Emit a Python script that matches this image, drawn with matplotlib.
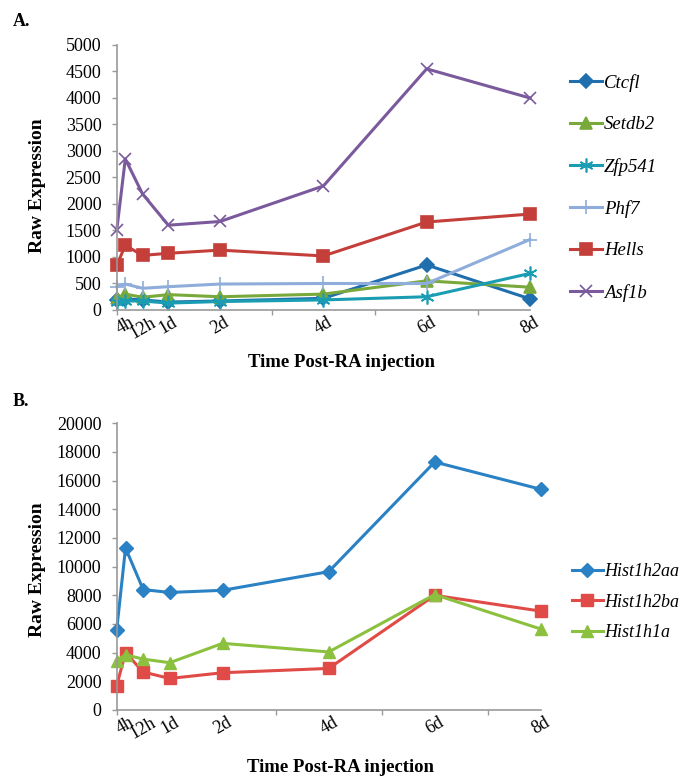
import numpy as np
import matplotlib
matplotlib.use("Agg")
import matplotlib.pyplot as plt

plt.rcParams['font.family'] = ['Liberation Serif', 'DejaVu Serif']

# time points in hours post-RA injection
hours = [0, 4, 12, 24, 48, 96, 144, 192]
tick_pos = [4, 12, 24, 48, 96, 144, 192]
tick_lab = ['4h', '12h', '1d', '2d', '4d', '6d', '8d']

# panel A
ctcfl = [190, 210, 190, 150, 170, 220, 850, 210]
setdb2 = [220, 300, 240, 290, 250, 300, 550, 430]
zfp541 = [150, 170, 170, 130, 160, 190, 250, 690]
phf7 = [440, 490, 410, 440, 490, 500, 500, 1330]
hells = [840, 1220, 1030, 1070, 1130, 1020, 1660, 1810]
asf1b = [1500, 2850, 2190, 1600, 1670, 2340, 4550, 4000]

# panel B
h2aa = [5600, 11300, 8400, 8200, 8350, 9650, 17300, 15400]
h2ba = [1700, 4000, 2650, 2200, 2600, 2900, 8000, 6900]
h1a = [3450, 3850, 3550, 3300, 4650, 4050, 8050, 5650]

W, H = 696, 779
fig = plt.figure(figsize=(W/100, H/100), dpi=100)

def px_axes(left, top, right, bottom):
    return fig.add_axes([left/W, 1-bottom/H, (right-left)/W, (bottom-top)/H])

def style_axes(ax, ymax, ystep, ylab_xy, xlab_xy):
    ax.set_xlim(0, 192)
    ax.set_ylim(0, ymax)
    ax.set_yticks(np.arange(0, ymax+1, ystep))
    ax.set_xticks(tick_pos)
    ax.set_xticklabels(tick_lab, rotation=30, ha='center', va='top')
    ax.set_xticks(np.arange(0, 193, 24), minor=True)
    ax.tick_params(axis='x', which='major', length=0, pad=3, labelsize=13)
    ax.tick_params(axis='x', which='minor', length=3.5, width=1, color='#999999', direction='out')
    ax.tick_params(axis='y', length=3.5, width=1, color='#999999', direction='out', labelsize=13, pad=7.5)
    for s in ['top', 'right']:
        ax.spines[s].set_visible(False)
    for s in ['left', 'bottom']:
        ax.spines[s].set_color('#999999')
        ax.spines[s].set_linewidth(1.2)
    ax.set_ylabel('Raw Expression', fontsize=14, fontweight='bold')
    ax.set_xlabel('Time Post-RA injection', fontsize=13.5, fontweight='bold')
    ax.yaxis.set_label_coords(*ylab_xy)
    ax.xaxis.set_label_coords(*xlab_xy)

# ---- A ----
ax = px_axes(116.7, 45, 530, 310)
series_a = [
    ('Ctcfl', ctcfl, '#1F6EAD', 'D', 7),
    ('Setdb2', setdb2, '#79A83B', '^', 8.5),
    ('Zfp541', zfp541, '#1A9DB3', (6, 2, 0), 10),
    ('Phf7', phf7, '#8EADDA', '+', 10),
    ('Hells', hells, '#C43F3A', 's', 8.5),
    ('Asf1b', asf1b, '#7A5A9C', 'x', 9),
]
for name, vals, col, mk, ms in series_a:
    ax.plot(hours, vals, color=col, lw=2.2, marker=mk, markersize=ms,
            markeredgecolor=col, markerfacecolor=col, markeredgewidth=1.2,
            label=name, clip_on=False)
style_axes(ax, 5000, 500, (-0.171, 0.468), (0.544, -0.165))
leg = ax.legend(loc='upper left', bbox_to_anchor=(570/W, 1-74/H), bbox_transform=fig.transFigure,
                frameon=False, fontsize=13.5, handlelength=1.7, handletextpad=0.1,
                labelspacing=1.3, borderpad=0, borderaxespad=0)
for t in leg.get_texts():
    t.set_fontstyle('italic')
fig.text(13/W, 1-21/H, 'A.', fontsize=13, fontweight='bold', va='center')

# ---- B ----
ax2 = px_axes(116.7, 423.3, 540.7, 710)
series_b = [
    ('Hist1h2aa', h2aa, '#2A82C4', 'D', 7),
    ('Hist1h2ba', h2ba, '#E04A47', 's', 9),
    ('Hist1h1a', h1a, '#8CC03F', '^', 9),
]
for name, vals, col, mk, ms in series_b:
    ax2.plot(hours, vals, color=col, lw=2.2, marker=mk, markersize=ms,
             markeredgecolor=col, markerfacecolor=col, label=name, clip_on=False)
style_axes(ax2, 20000, 2000, (-0.167, 0.49), (0.529, -0.171))
leg2 = ax2.legend(loc='upper left', bbox_to_anchor=(572/W, 1-563/H), bbox_transform=fig.transFigure,
                  frameon=False, fontsize=13, handlelength=1.7, handletextpad=0.1,
                  labelspacing=0.75, borderpad=0, borderaxespad=0)
for t in leg2.get_texts():
    t.set_fontstyle('italic')
fig.text(13/W, 1-401/H, 'B.', fontsize=13, fontweight='bold', va='center')

fig.savefig('out.png', dpi=100)
